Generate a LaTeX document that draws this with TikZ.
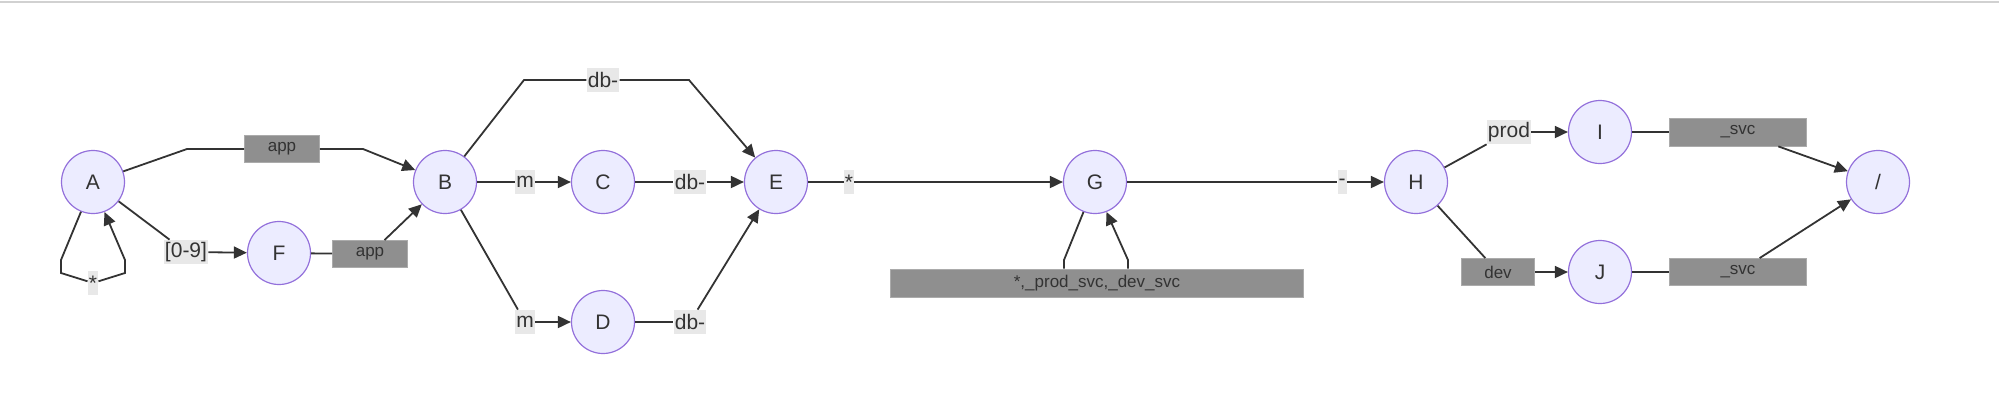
\documentclass[tikz,border=0pt]{standalone}
\usepackage{fontspec}
\setmainfont{Liberation Sans}
\usepackage{xcolor}
\usetikzlibrary{arrows.meta}
\definecolor{nodefill}{HTML}{ECECFF}
\definecolor{nodeline}{HTML}{9370DB}
\definecolor{wirecol}{HTML}{333333}
\definecolor{lblpale}{HTML}{E8E8E8}
\definecolor{lbldark}{HTML}{8F8F8F}

\begin{document}
\begin{tikzpicture}[
  x=0.5pt, y=-0.5pt,
  >={Triangle[length=6.5pt,width=6pt]},
  st/.style={circle, draw=nodeline, fill=nodefill, line width=0.6pt,
             minimum size=31.5pt, inner sep=0pt,
             font=\fontsize{10.5}{12}\selectfont, text=wirecol},
  tagpale/.style={fill=lblpale, inner xsep=0.5pt, inner ysep=0pt, minimum height=12pt,
             font=\fontsize{10.5}{12}\selectfont, text=wirecol},
  tagdark/.style={fill=lbldark, draw=lbldark!75!white, line width=0.4pt, inner sep=0pt,
             minimum height=13.5pt, font=\fontsize{8.5}{10}\selectfont, text=black!80},
  wire/.style={draw=wirecol, line width=0.9pt},
]
\useasboundingbox (0,0) rectangle (1999,403);
\draw[black!18, line width=0.8pt] (0,2) -- (1999,2);

% States
\node[st] (A) at (93,182) {A};
\node[st] (B) at (445,182) {B};
\node[st] (C) at (603,182) {C};
\node[st] (D) at (603,322) {D};
\node[st] (E) at (776,182) {E};
\node[st] (F) at (279,253) {F};
\node[st] (G) at (1095,182) {G};
\node[st] (H) at (1416,182) {H};
\node[st] (I) at (1600,132) {I};
\node[st] (J) at (1600,272) {J};
\node[st] (K) at (1878,182) {/};

% Edge labels
\node[tagdark, minimum width=37.5pt] (lAB) at (282,149) {app};
\node[tagpale] (lAF) at (186,252) {[0-9]};
\node[tagdark, minimum width=37.5pt] (lFB) at (370,254) {app};
\node[tagpale] (lAA) at (93,283) {*};
\node[tagpale] (lBE) at (603,80) {db-};
\node[tagpale] (lBC) at (525,182) {m};
\node[tagpale] (lCE) at (690,182) {db-};
\node[tagpale] (lBD) at (525,322) {m};
\node[tagpale] (lDE) at (690,322) {db-};
\node[tagpale] (lEG) at (849,182) {*};
\node[tagdark, minimum width=206.5pt, minimum height=14pt] (lGG) at (1097,283) {*,\_prod\_svc,\_dev\_svc};
\node[tagpale] (lGH) at (1342,182) {-};
\node[tagpale] (lHI) at (1509,132) {prod};
\node[tagdark, minimum width=68.5pt, minimum height=14pt] (lIK) at (1738,132) {\_svc};
\node[tagdark, minimum width=36.5pt] (lHJ) at (1498,272) {dev};
\node[tagdark, minimum width=68.5pt] (lJK) at (1738,272) {\_svc};

% A to B
\draw[wire] (A) -- (187,149) -- (lAB);
\draw[wire,->] (lAB) -- (363,149) -- (B);
\draw[wire] (A) -- (lAF);
\draw[wire,->] (lAF) -- (F);
\draw[wire] (F) -- (lFB);
\draw[wire,->] (lFB) -- (B);
\draw[wire] (A.248) -- (61,260) -- (61,273) -- (lAA);
\draw[wire,->] (lAA) -- (125,273) -- (125,260) -- (A.291);

% B to E
\draw[wire] (B.53) -- (524,80) -- (lBE);
\draw[wire,->] (lBE) -- (689,80) -- (E);
\draw[wire] (B) -- (lBC);
\draw[wire,->] (lBC) -- (C);
\draw[wire] (C) -- (lCE);
\draw[wire,->] (lCE) -- (E);
\draw[wire] (B) -- (lBD);
\draw[wire,->] (lBD) -- (D);
\draw[wire] (D) -- (lDE);
\draw[wire,->] (lDE) -- (E);

% E to H
\draw[wire] (E) -- (lEG);
\draw[wire,->] (lEG) -- (G);
\draw[wire] (G.249) -- (1064,260) -- (lGG.north -| 1064,0);
\draw[wire,->] (lGG.north -| 1128,0) -- (1128,260) -- (G.291);
\draw[wire] (G) -- (lGH);
\draw[wire,->] (lGH) -- (H);

% H to /
\draw[wire] (H.27) -- (lHI);
\draw[wire,->] (lHI) -- (I);
\draw[wire] (I) -- (lIK);
\draw[wire,->] (lIK) -- (K);
\draw[wire] (H) -- (lHJ);
\draw[wire,->] (lHJ) -- (J);
\draw[wire] (J) -- (lJK);
\draw[wire,->] (lJK) -- (K);
\end{tikzpicture}
\end{document}
